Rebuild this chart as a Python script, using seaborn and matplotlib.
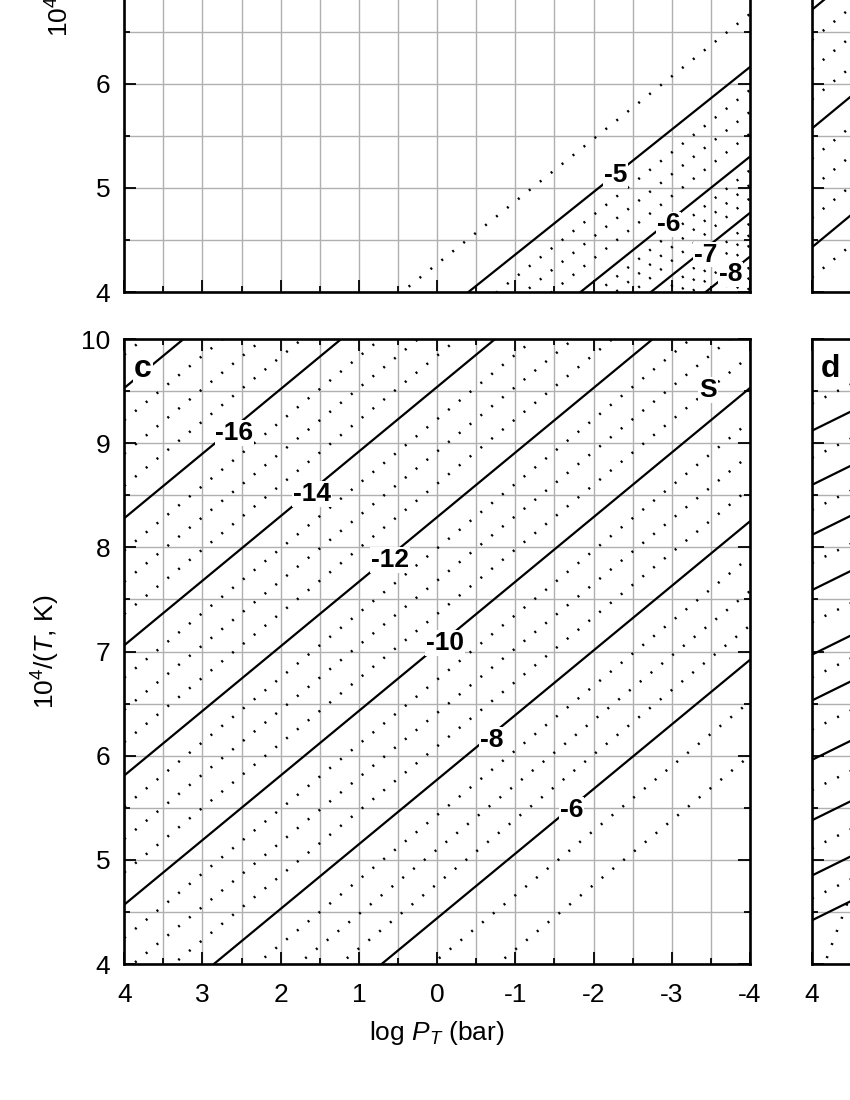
import matplotlib
matplotlib.use("Agg")
import matplotlib.pyplot as plt
from matplotlib.ticker import MultipleLocator
import pandas as pd
import seaborn as sns

# Every contour is a straight line: 10^4/T = y_left + slope * (4 - log P).
# y_left = value where the line meets the log P = 4 edge (extrapolated if off the panel).

# panel a (top left, mostly cropped away)
A_SLOPE = 0.60
A_SOLID_YLEFT = [1.36, 0.50, -0.04, -0.46]
A_DOT_YLEFT = [1.87, 1.14, 0.93, 0.72, 0.37, 0.23, 0.10, -0.14, -0.25, -0.35, -0.56, -0.66, -0.76]
A_LABELS = ["-5", "-6", "-7", "-8"]
A_LABEL_LOGP = [-2.28, -2.96, -3.43, -3.75]
A_LABEL_INVT = [5.12, 4.65, 4.36, 4.17]

# panel b (top right sliver)
B_SLOPE = 0.62
B_SOLID_YLEFT = [6.71, 5.57, 4.43]
B_DOT_YLEFT = [6.99, 6.42, 6.14, 5.85, 5.28, 5.00, 4.71, 4.14]

# panel c (bottom left, complete)
C_SLOPE = 0.62
C_SOLID_YLEFT = [9.53, 8.28, 7.06, 5.81, 4.57, 3.29, 1.96]
C_DOT_YLEFT = [9.85, 9.22, 8.90, 8.59, 7.97, 7.67, 7.36, 6.75, 6.44, 6.13,
               5.51, 5.20, 4.88, 4.25, 3.93, 3.61, 2.95, 2.62, 2.29, 1.56, 1.04]
C_LABELS = ["-16", "-14", "-12", "-10", "-8", "-6"]
C_LABEL_LOGP = [2.59, 1.60, 0.60, -0.10, -0.70, -1.72]
C_LABEL_INVT = [9.10, 8.51, 7.88, 7.08, 6.15, 5.48]

# panel d (bottom right sliver)
D_SLOPE = 0.37
D_SOLID_YLEFT = [9.12, 8.60, 8.12, 7.59, 6.97, 6.53, 5.96, 5.38, 4.85, 4.42]
D_DOT_YLEFT = [9.38, 8.86, 8.36, 7.85, 7.28, 6.75, 6.25, 5.67, 5.11, 4.63]
D_EDGE_SLOPE = 2.0
D_EDGE_YLEFT = [3.68]

XTICKS = [4, 3, 2, 1, 0, -1, -2, -3, -4]
YTICKS = [4, 5, 6, 7, 8, 9, 10]

sns.set_style("ticks")
plt.rcParams["font.family"] = ["Liberation Sans", "DejaVu Sans"]
plt.rcParams["mathtext.fontset"] = "custom"
plt.rcParams["mathtext.rm"] = "Liberation Sans"
plt.rcParams["mathtext.it"] = "Liberation Sans:italic"
plt.rcParams["axes.unicode_minus"] = False
for key in ["text.color", "axes.labelcolor", "xtick.color", "ytick.color"]:
    plt.rcParams[key] = "black"


def contour_frame(y_left, slope):
    rows = []
    for i, y0 in enumerate(y_left):
        rows.append((i, 4.0, y0))
        rows.append((i, -4.0, y0 + 8 * slope))
    return pd.DataFrame(rows, columns=["line", "logP", "invT"])


def draw_lines(ax, solid, dots, slope):
    sns.lineplot(data=contour_frame(dots, slope), x="logP", y="invT", units="line",
                 estimator=None, sort=False, color="black", linewidth=1.8,
                 linestyle=(0, (0.8, 4.8)), legend=False, ax=ax)
    if solid:
        sns.lineplot(data=contour_frame(solid, slope), x="logP", y="invT", units="line",
                     estimator=None, sort=False, color="black", linewidth=1.6,
                     legend=False, ax=ax)


def label_lines(ax, labels, xs, ys):
    for lab, lx, ly in zip(labels, xs, ys):
        ax.text(lx, ly, lab, ha="center", va="center", fontsize=19,
                fontweight="bold", zorder=5,
                bbox=dict(fc="white", ec="none", pad=0.5))


def style_axes(ax, xlabels, ylabels):
    ax.set_xlim(4, -4)
    ax.set_ylim(4, 10)
    ax.set_xticks(XTICKS)
    ax.set_yticks(YTICKS)
    ax.xaxis.set_minor_locator(MultipleLocator(0.5))
    ax.yaxis.set_minor_locator(MultipleLocator(0.5))
    ax.grid(which="both", color="#b0b0b0", linewidth=1.0)
    ax.set_axisbelow(True)
    ax.tick_params(which="both", direction="in", top=True, right=True,
                   width=1.3, color="black", labelsize=19)
    ax.tick_params(which="major", length=8.5)
    ax.tick_params(which="minor", length=4.3)
    ax.tick_params(axis="x", pad=14, labelbottom=xlabels)
    ax.tick_params(axis="y", pad=10, labelleft=ylabels)
    for sp in ax.spines.values():
        sp.set_linewidth(1.9)
        sp.set_color("black")
    ax.set_xlabel("")
    ax.set_ylabel("")


fig = plt.figure(figsize=(8.5, 11), dpi=100)
W, H = 0.7361, 0.5682
ax_a = fig.add_axes([0.1462, 0.7345, W, H])
ax_b = fig.add_axes([0.9553, 0.7345, W, H])
ax_c = fig.add_axes([0.1462, 0.1236, W, H])
ax_d = fig.add_axes([0.9553, 0.1236, W, H])

draw_lines(ax_a, A_SOLID_YLEFT, A_DOT_YLEFT, A_SLOPE)
label_lines(ax_a, A_LABELS, A_LABEL_LOGP, A_LABEL_INVT)
style_axes(ax_a, False, True)
# only 4-6 of panel a survive the crop; upper tick labels would sit off the page
ax_a.set_yticklabels(["4", "5", "6", "", "", "", ""])
ax_a.set_ylabel("$10^4$/($T$, K)", fontsize=19, labelpad=14)

draw_lines(ax_b, B_SOLID_YLEFT, B_DOT_YLEFT, B_SLOPE)
style_axes(ax_b, False, False)

draw_lines(ax_c, C_SOLID_YLEFT, C_DOT_YLEFT, C_SLOPE)
label_lines(ax_c, C_LABELS, C_LABEL_LOGP, C_LABEL_INVT)
style_axes(ax_c, True, True)
ax_c.set_ylabel("$10^4$/($T$, K)", fontsize=19, labelpad=14)
ax_c.set_xlabel("log $P_T$ (bar)", fontsize=19, labelpad=8)
ax_c.text(3.76, 9.71, "c", ha="center", va="center", fontsize=23, fontweight="bold",
          zorder=5, bbox=dict(fc="white", ec="none", pad=1.0))
ax_c.text(-3.46, 9.51, "S", ha="center", va="center", fontsize=19, fontweight="bold",
          zorder=5, bbox=dict(fc="white", ec="none", pad=0.8))

draw_lines(ax_d, D_SOLID_YLEFT, D_DOT_YLEFT, D_SLOPE)
draw_lines(ax_d, [], D_EDGE_YLEFT, D_EDGE_SLOPE)
style_axes(ax_d, True, False)
# only the first x tick label of panel d is inside the crop
ax_d.set_xticklabels(["4"] + [""] * (len(XTICKS) - 1))
ax_d.text(3.76, 9.71, "d", ha="center", va="center", fontsize=23, fontweight="bold",
          zorder=5, bbox=dict(fc="white", ec="none", pad=1.0))

fig.savefig("out.png", dpi=100)
